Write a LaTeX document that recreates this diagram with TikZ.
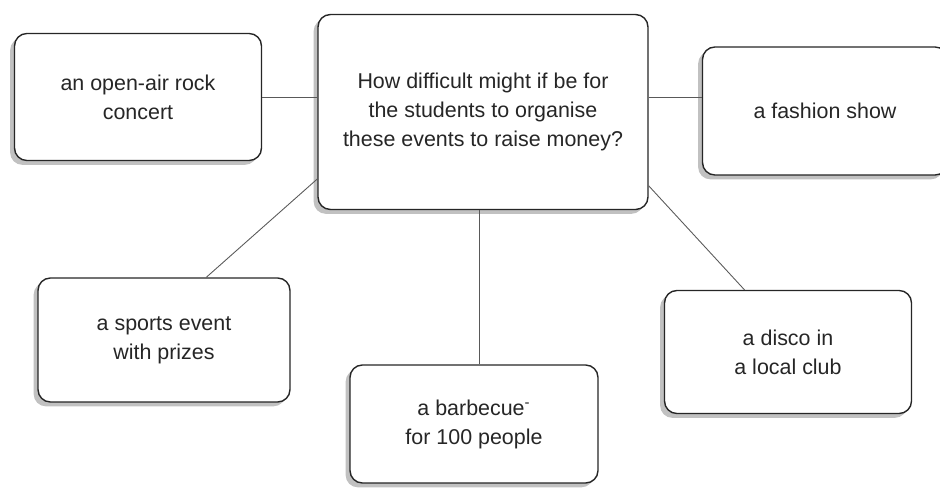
\documentclass[tikz,border=0pt]{standalone}
\usepackage{fontspec}
\setmainfont{Liberation Sans}
\usetikzlibrary{shadows}
\tikzset{
  event/.style={draw=black!85, line width=0.8pt, rounded corners=7pt, fill=white,
    align=center, text=black!85, font=\fontsize{12.2}{16.5}\selectfont,
    drop shadow={shadow xshift=-2.5pt, shadow yshift=-2.5pt, opacity=0.35, fill=black!70}},
  link/.style={draw=black!65, line width=0.5pt}
}
\begin{document}
\begin{tikzpicture}[x=0.02cm,y=-0.02cm] % one unit = one pixel of the scan
\useasboundingbox (0,0) rectangle (940,490);
    % the question in the middle
    \node[event, minimum width=6.6cm, minimum height=3.9cm] (question) at (483,112)
        {How difficult might if be for\\the students to organise\\these events to raise money?};
    % the five events
    \node[event, minimum width=4.94cm, minimum height=2.54cm] (rock) at (138,97)
        {an open-air rock\\concert};
    \node[event, minimum width=4.9cm, minimum height=2.56cm] (fashion) at (825,111)
        {a fashion show};
    \node[event, minimum width=5.04cm, minimum height=2.48cm] (sports) at (164,340)
        {a sports event\\with prizes};
    \node[event, minimum width=4.96cm, minimum height=2.36cm] (bbq) at (474,424)
        {a barbecue\textsuperscript{-}\\for 100 people};
    \node[event, minimum width=4.94cm, minimum height=2.46cm] (disco) at (788,352)
        {a disco in\\a local club};
    % links
    \draw[link] (rock.east) -- (question.west |- rock.east);
    \draw[link] (question.east |- rock.east) -- (fashion.west |- rock.east);
    \draw[link] (question.202) -- (sports.56);
    \draw[link] (question.268) -- (question.268 |- bbq.north);
    \draw[link] (question.-24) -- (disco.125);
\end{tikzpicture}
\end{document}
